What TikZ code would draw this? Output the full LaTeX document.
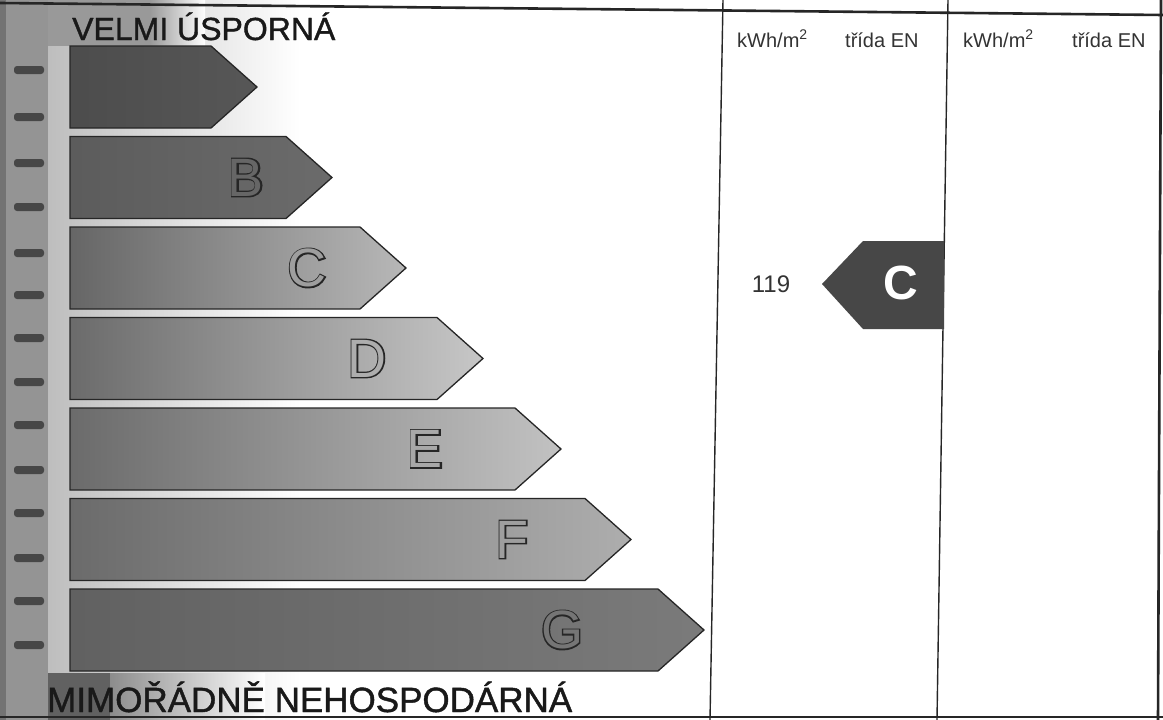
\documentclass[tikz,border=0pt]{standalone}
\usepackage{fontspec}
\setmainfont{Liberation Sans}
\newfontfamily\outlinefont[FakeBold=5]{Liberation Sans}
\newfontfamily\headfont[FakeBold=1.2]{Liberation Sans}
\definecolor{stripgray}{gray}{0.58}
\definecolor{stripdash}{gray}{0.28}
\definecolor{lightband}{gray}{0.74}
\definecolor{topband}{gray}{0.6}
\definecolor{botdark}{gray}{0.38}
\definecolor{botmid}{gray}{0.55}
\definecolor{cAl}{gray}{0.30}\definecolor{cAr}{gray}{0.34}
\definecolor{cBl}{gray}{0.36}\definecolor{cBr}{gray}{0.42}
\definecolor{cCl}{gray}{0.40}\definecolor{cCr}{gray}{0.72}
\definecolor{cDl}{gray}{0.42}\definecolor{cDr}{gray}{0.78}
\definecolor{cEl}{gray}{0.42}\definecolor{cEr}{gray}{0.76}
\definecolor{cFl}{gray}{0.42}\definecolor{cFr}{gray}{0.68}
\definecolor{cGl}{gray}{0.38}\definecolor{cGr}{gray}{0.48}
\definecolor{cBm}{gray}{0.40}
\definecolor{cCm}{gray}{0.62}
\definecolor{cDm}{gray}{0.68}
\definecolor{cEm}{gray}{0.66}
\definecolor{cFm}{gray}{0.62}
\definecolor{cGm}{gray}{0.46}
\definecolor{badgegray}{gray}{0.28}
\definecolor{inkgray}{gray}{0.2}
\tikzset{
  arrowline/.style={draw=black!85, line width=1.3pt, line join=miter},
  frameline/.style={draw=black!85, line width=1.4pt},
  heading/.style={anchor=base west, inner sep=0pt, text=black!90, font=\headfont\fontsize{32}{32}\selectfont},
  colhead/.style={anchor=base west, inner sep=0pt, text=inkgray, font=\fontsize{20}{20}\selectfont},
  lettershadow/.style={inner sep=0pt, text=black!85, font=\outlinefont\fontsize{54}{54}\selectfont},
  letterfill/.style={inner sep=0pt, font=\fontsize{54}{54}\selectfont},
}
\begin{document}
\begin{tikzpicture}[x=1pt,y=-1pt]
\useasboundingbox (0,0) rectangle (1163,720);
\fill[white] (0,0) rectangle (1163,720);
% soft gray behind the arrows
\shade[left color=lightband, right color=white] (45,0) rectangle (300,720);
% top band behind the upper heading
\fill[topband] (45,0) rectangle (150,46);
\shade[left color=topband, right color=white] (150,0) rectangle (205,46);
% bottom band behind the lower heading
\fill[botdark] (45,673) rectangle (110,720);
\shade[left color=botmid, right color=white] (110,673) rectangle (265,720);
% left strip
\fill[stripgray] (0,0) rectangle (48,720);
\fill[black!55] (0,0) rectangle (6,720);
\foreach \yy in {70,117,163,207,253,295,338,382,425,470,513,558,601,645}{
  \fill[stripdash, rounded corners=3pt] (14,\yy-4) rectangle (44,\yy+4);
}
% class arrows
\foreach \i/\tp/\cl/\cr in {0/257/cAl/cAr,1/332/cBl/cBr,2/406/cCl/cCr,3/483/cDl/cDr,4/561/cEl/cEr,5/631/cFl/cFr,6/704/cGl/cGr}{
  \pgfmathsetmacro\yt{46+90.5*\i}
  \pgfmathsetmacro\yb{\yt+82}
  \pgfmathsetmacro\ym{\yt+41}
  \pgfmathsetmacro\xb{\tp-46}
  \draw[arrowline, left color=\cl, right color=\cr] (70,\yt) -- (\xb,\yt) -- (\tp,\ym) -- (\xb,\yb) -- (70,\yb) -- cycle;
}
% outlined class letters
\foreach \n/\xx/\yy/\cc in {B/246/177.5/cBm, C/307/268/cCm, D/367/358.5/cDm, E/425/449/cEm, F/512/539.5/cFm, G/562/630/cGm}{
  \node[lettershadow] (O\n) at (\xx,\yy) {\n};
  \node[letterfill, text=\cc] (L\n) at (\xx,\yy) {\n};
}
% headings
\node[heading] (top) at (72,40) {VELMI ÚSPORNÁ};
\node[heading, font=\headfont\fontsize{35}{35}\selectfont] (bottom) at (47,712) {MIMOŘÁDNĚ NEHOSPODÁRNÁ};
% frame
\draw[frameline, line width=2.6pt] (0,3) -- (1163,15);
\draw[frameline, line width=2.8pt] (0,717) -- (1163,717);
\draw[frameline] (723,0) -- (710,720);
\draw[frameline] (948,0) -- (937,720);
\draw[frameline, line width=2.6pt] (1161,0) -- (1158,720);
% column headings
\node[colhead] (h1) at (737,47) {kWh/m\textsuperscript{2}};
\node[colhead] (h2) at (845,47) {třída EN};
\node[colhead] (h3) at (963,47) {kWh/m\textsuperscript{2}};
\node[colhead] (h4) at (1072,47) {třída EN};
% current value and class
\node[inner sep=0pt, text=inkgray, font=\fontsize{24}{24}\selectfont] (val) at (771,284) {119};
\fill[badgegray] (822,284) -- (863,241) -- (944,241) -- (944,329) -- (863,329) -- cycle;
\node[inner sep=0pt, text=white, font=\bfseries\fontsize{48}{48}\selectfont] (cls) at (901,283) {C};
\end{tikzpicture}
\end{document}
